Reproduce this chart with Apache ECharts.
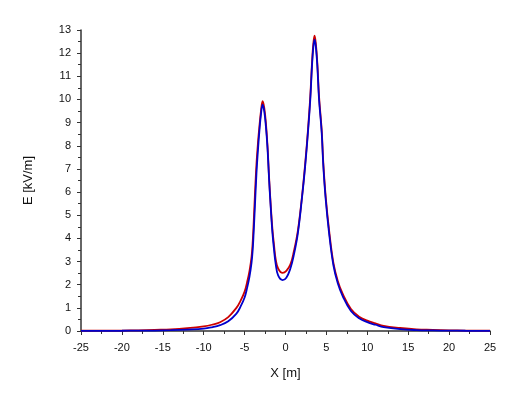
<!DOCTYPE html>
<html>
<head>
<meta charset="utf-8">
<script src="https://cdn.jsdelivr.net/npm/echarts@6/dist/echarts.min.js"></script>
<style>html,body{margin:0;padding:0;background:#fff}#c{width:516px;height:394px}</style>
</head>
<body>
<div id="c"></div>
<script>
var xValues = [-25,-22,-20,-18,-16,-14,-12,-10,-9,-8,
  -7,-6,-5.5,-5,-4.7,-4.4,-4.15,-4,-3.9,-3.75,
  -3.55,-3.35,-3.2,-3,-2.8,-2.6,-2.4,-2.2,-2,-1.8,
  -1.6,-1.4,-1.2,-0.9,-0.35,0.1,0.6,1,1.5,2,
  2.4,2.75,3.03,3.24,3.4,3.55,3.7,3.89,4.1,4.42,
  4.62,4.91,5.32,5.85,6.4,7,8,9,10,11,
  12,14,16,18,20,22,25];
var redValues = [0.01,0.015,0.02,0.03,0.05,0.07,0.12,0.2,0.27,0.38,
  0.6,1.0,1.3,1.7,2.1,2.6,3.2,3.9,4.6,5.8,
  7.2,8.2,8.8,9.5,9.93,9.65,9.0,8.0,6.6,5.4,
  4.4,3.7,3.1,2.7,2.51,2.6,2.88,3.4,4.3,5.75,
  7.2,8.7,10.14,11.58,12.4,12.76,12.45,11.58,10.14,8.7,
  7.27,5.82,4.38,2.95,2.15,1.6,0.95,0.62,0.45,0.33,
  0.22,0.13,0.07,0.05,0.03,0.02,0.01];
var blueValues = [0.005,0.008,0.01,0.015,0.02,0.035,0.06,0.1,0.16,0.25,
  0.42,0.75,1.05,1.45,1.85,2.35,2.95,3.55,4.2,5.3,
  6.8,7.9,8.6,9.35,9.78,9.5,8.85,7.9,6.5,5.3,
  4.25,3.5,2.9,2.4,2.2,2.3,2.7,3.25,4.2,5.7,
  7.1,8.6,10.0,11.45,12.25,12.58,12.3,11.45,10.0,8.6,
  7.15,5.7,4.25,2.85,2.05,1.5,0.86,0.55,0.38,0.27,
  0.17,0.08,0.04,0.025,0.015,0.01,0.005];
var xTickMin = -25, xTickMax = 25, xTickStep = 5;
var yTickMin = 0, yTickMax = 13, yTickStep = 1;

function pairs(xs, ys){ return xs.map(function(x,i){ return [x, ys[i]]; }); }

var chart = echarts.init(document.getElementById('c'));
var font = 'Liberation Sans, Arial, sans-serif';
function axisBase(){
  return {
    axisLine:{show:true, onZero:false, lineStyle:{color:'#333', width:1.5}},
    axisTick:{show:true, inside:false, length:4, lineStyle:{color:'#333', width:1}},
    minorTick:{show:true, splitNumber:2, length:3, lineStyle:{color:'#333', width:1}},
    splitLine:{show:false},
    nameLocation:'middle',
    nameTextStyle:{color:'#111', fontFamily:font, fontSize:13}
  };
}
var xa = axisBase();
Object.assign(xa, {type:'value', min:xTickMin, max:xTickMax, interval:xTickStep,
  name:'X [m]', nameGap:36,
  axisLabel:{color:'#111', fontFamily:font, fontSize:11, margin:11}});
var ya = axisBase();
Object.assign(ya, {type:'value', min:yTickMin, max:yTickMax, interval:yTickStep,
  name:'E [kV/m]', nameGap:46, nameRotate:90,
  axisLabel:{color:'#111', fontFamily:font, fontSize:11, margin:10}});

chart.setOption({
  backgroundColor:'#fff',
  animation:false,
  grid:{left:81, right:26, top:30, bottom:63, containLabel:false},
  xAxis: xa,
  yAxis: ya,
  series:[
    {type:'line', name:'red', data:pairs(xValues, redValues), showSymbol:false, smooth:0.4,
     lineStyle:{color:'#cc0000', width:1.8}, z:2},
    {type:'line', name:'blue', data:pairs(xValues, blueValues), showSymbol:false, smooth:0.4,
     lineStyle:{color:'#0000cc', width:1.8}, z:3}
  ]
});
</script>
</body>
</html>
